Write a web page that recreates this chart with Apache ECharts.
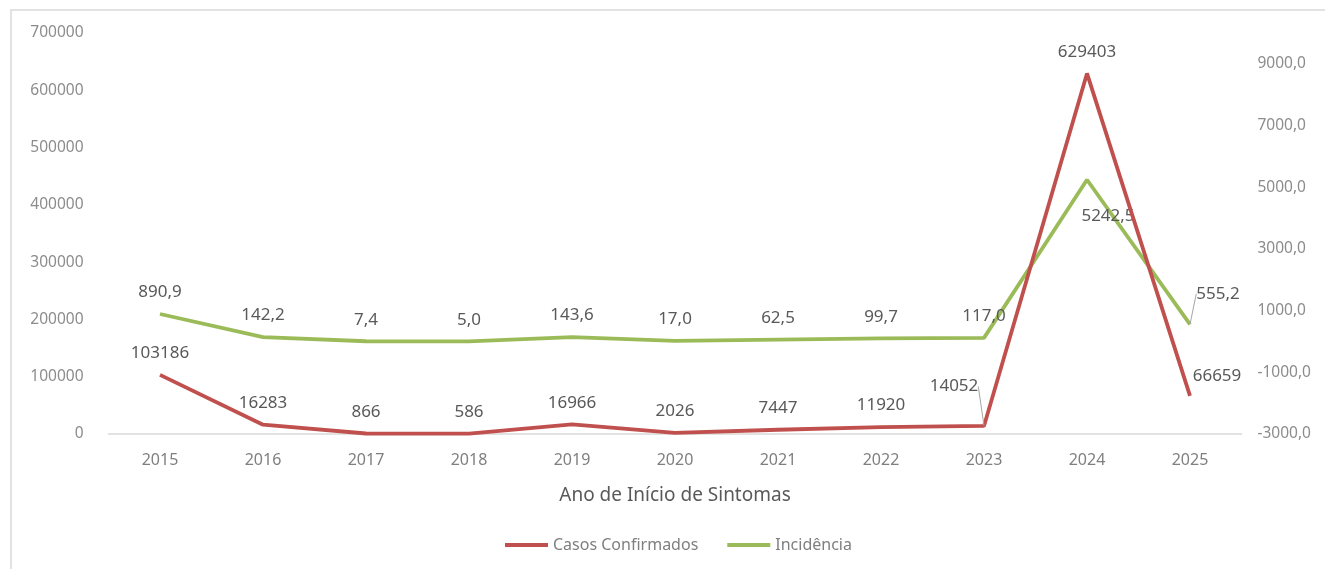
<!DOCTYPE html>
<html>
<head>
<meta charset="utf-8">
<script src="https://cdn.jsdelivr.net/npm/echarts@6/dist/echarts.min.js"></script>
<style>
html,body{margin:0;padding:0;background:#fff;}
#c{width:1325px;height:569px;}
</style>
</head>
<body>
<div id="c"></div>
<script>
const years = ['2015','2016','2017','2018','2019','2020','2021','2022','2023','2024','2025'];
const casosConfirmados = [103186, 16283, 866, 586, 16966, 2026, 7447, 11920, 14052, 629403, 66659];
const incidencia = [890.9, 142.2, 7.4, 5.0, 143.6, 17.0, 62.5, 99.7, 117.0, 5242.5, 555.2];
const seriesNames = ['Casos Confirmados', 'Incidência'];
const xAxisTitle = 'Ano de Início de Sintomas';

const FONT = 'Noto Sans';
const fmtComma = v => v.toFixed(1).replace('.', ',');

const chart = echarts.init(document.getElementById('c'));

// label displacements (layout only)
const casosMoves = { 8: { dx: -30, dy: -18 }, 10: { dx: 27, dy: 2 } };
const incMoves = { 9: { dx: 21, dy: 58 }, 10: { dx: 28, dy: -9 } };
const leaderCasos = [8];
const leaderInc = [10];

const casosData = casosConfirmados.map((v, i) => {
  const d = { value: v };
  if (leaderCasos.includes(i)) d.labelLine = { show: true };
  return d;
});
const incData = incidencia.map((v, i) => {
  const d = { value: v };
  if (leaderInc.includes(i)) d.labelLine = { show: true };
  return d;
});

chart.setOption({
  animation: false,
  backgroundColor: '#fff',
  graphic: [{
    type: 'rect', silent: true,
    shape: { x: 11, y: 10, width: 1330, height: 580 },
    style: { fill: 'none', stroke: '#d9d9d9', lineWidth: 1.5 }
  }],
  grid: { left: 108.5, right: 83.5, top: 33, bottom: 135 },
  legend: {
    bottom: 11, left: 500,
    icon: 'rect', itemWidth: 43, itemHeight: 4, itemGap: 29,
    textStyle: { fontFamily: FONT, fontSize: 16, color: '#7f7f7f' },
    data: seriesNames
  },
  xAxis: {
    type: 'category', data: years, boundaryGap: true,
    name: xAxisTitle, nameLocation: 'middle', nameGap: 52,
    nameTextStyle: { fontFamily: FONT, fontSize: 19, color: '#595959' },
    axisLine: { lineStyle: { color: '#d9d9d9', width: 1.5 } },
    axisTick: { show: false },
    axisLabel: { fontFamily: FONT, fontSize: 16, color: '#7f7f7f', margin: 18 }
  },
  yAxis: [{
    type: 'value', min: 0, max: 700000, interval: 100000,
    splitLine: { show: false }, axisLine: { show: false }, axisTick: { show: false },
    axisLabel: { fontFamily: FONT, fontSize: 15.5, color: '#8c8c8c', margin: 25, formatter: v => String(v) }
  }, {
    type: 'value', min: -3000, max: 10000, interval: 2000, position: 'right',
    splitLine: { show: false }, axisLine: { show: false }, axisTick: { show: false },
    axisLabel: { fontFamily: FONT, fontSize: 15.5, color: '#8c8c8c', margin: 16,
      showMaxLabel: false, formatter: v => fmtComma(v) }
  }],
  series: [{
    name: seriesNames[0], type: 'line', yAxisIndex: 0, data: casosData,
    showSymbol: true, symbol: 'circle', symbolSize: 0.1,
    lineStyle: { color: '#C0504D', width: 3.8 }, itemStyle: { color: '#C0504D' },
    label: { show: true, position: 'top', distance: 13, fontFamily: FONT, fontSize: 17, color: '#595959' },
    labelLine: { show: false, lineStyle: { color: '#a6a6a6', width: 1 } },
    labelLayout: p => casosMoves[p.dataIndex] || {},
    z: 3
  }, {
    name: seriesNames[1], type: 'line', yAxisIndex: 1, data: incData,
    showSymbol: true, symbol: 'circle', symbolSize: 0.1,
    lineStyle: { color: '#9BBB59', width: 3.8 }, itemStyle: { color: '#9BBB59' },
    label: { show: true, position: 'top', distance: 13, fontFamily: FONT, fontSize: 17, color: '#595959',
      formatter: p => fmtComma(p.value) },
    labelLine: { show: false, lineStyle: { color: '#a6a6a6', width: 1 } },
    labelLayout: p => incMoves[p.dataIndex] || {},
    z: 2
  }]
});
</script>
</body>
</html>
